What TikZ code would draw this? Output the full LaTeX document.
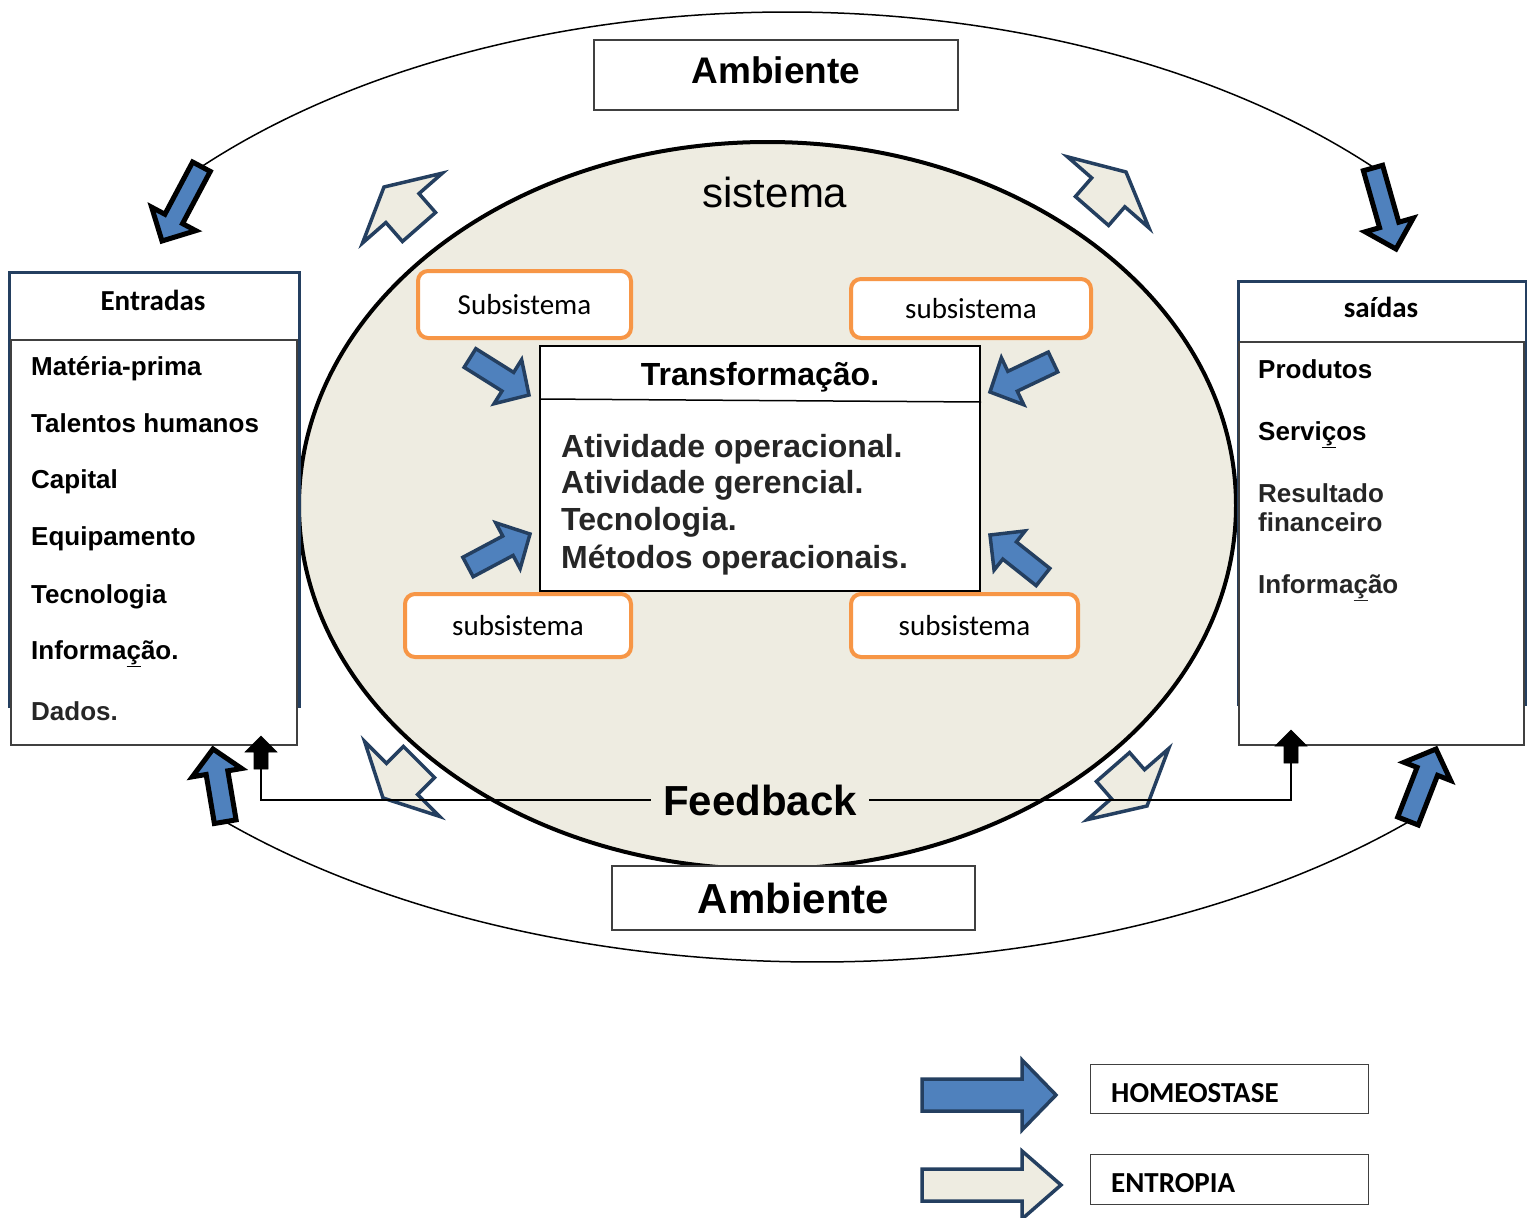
\documentclass[tikz,border=0pt]{standalone}
\usepackage{fontspec}
\setmainfont{Liberation Sans}
\newfontfamily\calib{Carlito}
\usetikzlibrary{calc,shapes.geometric}
\definecolor{beige}{HTML}{EEECE1}
\definecolor{ablue}{HTML}{4F81BD}
\definecolor{navy}{HTML}{243F60}
\definecolor{orng}{HTML}{F79646}
\definecolor{boxgray}{HTML}{404040}
\definecolor{txtgray}{HTML}{262626}
\newcommand\fsz[1]{\fontsize{#1}{#1}\selectfont}
% block arrow: style, tail, tip, shaft half width, head half width, head length
\newcommand\blockarr[6]{%
  \coordinate (ba-t) at #2;
  \coordinate (ba-p) at #3;
  \coordinate (ba-h) at ($(ba-p)!#6pt!(ba-t)$);
  \path[#1] ($(ba-t)!#4pt!90:(ba-p)$) -- ($(ba-h)!#4pt!90:(ba-p)$) -- ($(ba-h)!#5pt!90:(ba-p)$) -- (ba-p) -- ($(ba-h)!#5pt!-90:(ba-p)$) -- ($(ba-h)!#4pt!-90:(ba-p)$) -- ($(ba-t)!#4pt!-90:(ba-p)$) -- cycle;}
\begin{document}
\begin{tikzpicture}[x=1pt,y=-1pt,
  homeo/.style={fill=ablue,draw=black,line width=5pt},
  homeoin/.style={fill=ablue,draw=navy,line width=3.5pt},
  entropy/.style={fill=beige,draw=navy,line width=3.5pt},
  fbarrow/.style={fill=black,draw=black,line width=0.6pt},
  plainbox/.style={draw=boxgray,line width=1.2pt,fill=white,inner sep=0pt},
  outerbox/.style={draw=navy,line width=2.5pt,fill=white,inner sep=0pt,anchor=north west},
  innerbox/.style={draw=boxgray,line width=1.5pt,fill=white,inner sep=0pt,anchor=north west},
  subbox/.style={draw=orng,line width=4pt,fill=white,rounded corners=10pt,inner sep=0pt,font=\calib\fsz{29}},
  item/.style={anchor=base west,inner sep=0pt,font=\fsz{26}\bfseries},
  head/.style={anchor=base,inner sep=0pt,font=\calib\fsz{29}\bfseries},
  body/.style={anchor=base west,inner sep=0pt,font=\fsz{32}\bfseries,text=txtgray},
  legtxt/.style={anchor=base west,inner sep=0pt,font=\calib\fsz{29}\bfseries},
  ]
\path[use as bounding box,fill=white] (0,0) rectangle (1527,1218);

% outer environment curve
\coordinate (arcTL) at ($(787,487)+(-137.6:793 and 475)$);
\coordinate (arcBL) at ($(817,487)+(135.2:834 and 475)$);
\draw[line width=1.5pt] (arcTL) arc[start angle=-137.6,end angle=-42.4,x radius=793,y radius=475];
\draw[line width=1.5pt] (arcBL) arc[start angle=135.2,end angle=44.8,x radius=834,y radius=475];

% system
\node[ellipse,draw=black,line width=4pt,fill=beige,minimum width=937pt,minimum height=727pt,inner sep=0pt] (sys) at (767.5,505.5) {};
\node[inner sep=0pt,font=\fsz{42}] (sislbl) at (775,192) {sistema};

% top environment
\node[plainbox,minimum width=364pt,minimum height=70pt,text depth=10pt,font=\fsz{37}\bfseries] (amb1) at (776,75) {Ambiente};

% Entradas
\node[outerbox,minimum width=290pt,minimum height=434pt] (entO) at (8,271) {};
\node[innerbox,minimum width=286pt,minimum height=405pt] (entI) at (10,339) {};
\node[head] (entH) at (153,310) {Entradas};
\node[item] (e1) at (31,375) {Matéria-prima};
\node[item] (e2) at (31,432) {Talentos humanos};
\node[item] (e3) at (31,488) {Capital};
\node[item] (e4) at (31,545) {Equipamento};
\node[item] (e5) at (31,603) {Tecnologia};
\node[item] (e6) at (31,659) {Informa\underline{ç}ão.};
\node[item,text=txtgray] (e7) at (31,720) {Dados.};

% Saidas
\node[outerbox,minimum width=288pt,minimum height=423pt] (saiO) at (1237,280) {};
\node[innerbox,minimum width=285pt,minimum height=403pt] (saiI) at (1238,341) {};
\node[head] (saiH) at (1381,317) {saídas};
\node[item] (s1) at (1258,378) {Produtos};
\node[item] (s2) at (1258,440) {Servi\underline{ç}os};
\node[item,text=txtgray] (s3) at (1258,502) {Resultado};
\node[item,text=txtgray] (s4) at (1258,531) {financeiro};
\node[item,text=txtgray] (s5) at (1258,593) {Informa\underline{ç}ão};

% Transformacao
\node[draw=black,line width=2pt,fill=white,minimum width=440pt,minimum height=245pt,inner sep=0pt] (trans) at (760,468.5) {};
\draw[line width=1.5pt] ([yshift=-54pt]trans.north west) -- ([yshift=-57pt]trans.north east);
\node[anchor=base,inner sep=0pt,font=\fsz{32}\bfseries] (transT) at (760,385) {Transformação.};
\node[body] (b1) at (561,457) {Atividade operacional.};
\node[body] (b2) at (561,493) {Atividade gerencial.};
\node[body] (b3) at (561,530) {Tecnologia.};
\node[body] (b4) at (561,568) {Métodos operacionais.};

% subsystems
\node[subbox,minimum width=213pt,minimum height=67pt] (sub1) at (524.5,304.5) {Subsistema};
\node[subbox,minimum width=240pt,minimum height=59pt] (sub2) at (971,308.5) {subsistema};
\node[subbox,minimum width=226pt,minimum height=63pt] (sub3) at (518,625.5) {subsistema};
\node[subbox,minimum width=227pt,minimum height=63pt] (sub4) at (964.5,625.5) {subsistema};

% homeostasis arrows into transformation
\blockarr{homeoin}{(470,358)}{(529,395)}{11}{26}{25}
\blockarr{homeoin}{(468,567)}{(530,534)}{11}{26}{25}
\blockarr{homeoin}{(1053,362)}{(990,392)}{11}{26}{25}
\blockarr{homeoin}{(1043,577)}{(990,535)}{11}{25}{25}

% entropy arrows
\blockarr{entropy}{(419,227)}{(384,187)}{22}{53}{28}
\blockarr{entropy}{(1092,211)}{(1126,172)}{22}{54}{27}
\blockarr{entropy}{(419,762)}{(383,798)}{22}{53}{27}
\blockarr{entropy}{(1113,767)}{(1147,806)}{22}{54}{29}

% feedback
\node[inner xsep=12pt,inner ysep=0pt,font=\fsz{42}\bfseries] (fb) at (760,800) {Feedback};
\coordinate (fbL) at (261,768);
\coordinate (fbR) at (1291,762);
\draw[line width=2pt] (fbL) |- (fb.west);
\draw[line width=2pt] (fbR) |- (fb.east);
\blockarr{fbarrow}{(261,769)}{(261,736)}{7}{16}{16}
\blockarr{fbarrow}{(1291,763)}{(1291,730)}{7}{16}{16}

% bottom environment
\node[plainbox,minimum width=363pt,minimum height=64pt,font=\fsz{42}\bfseries] (amb2) at (793.5,898) {Ambiente};

% homeostasis arrows environment <-> boxes
\blockarr{homeo}{(arcTL)}{(162,241)}{10}{25}{25}
\blockarr{homeo}{(1373,168)}{(1396,249)}{10}{25}{25}
\blockarr{homeo}{(arcBL)}{(213,749)}{11}{25}{24}
\blockarr{homeo}{(1408,821)}{(1436,749)}{11}{25}{24}

% legend
\blockarr{homeoin}{(922,1095)}{(1056,1095)}{16}{35}{34}
\blockarr{entropy}{(922,1185)}{(1061,1185)}{16}{34}{39}
\node[plainbox,minimum width=278pt,minimum height=49pt,anchor=north west] (legH) at (1090,1064) {};
\node[legtxt] (legHt) at (1111,1102) {HOMEOSTASE};
\node[plainbox,minimum width=278pt,minimum height=50pt,anchor=north west] (legE) at (1090,1154) {};
\node[legtxt] (legEt) at (1111,1192) {ENTROPIA};
\end{tikzpicture}
\end{document}
